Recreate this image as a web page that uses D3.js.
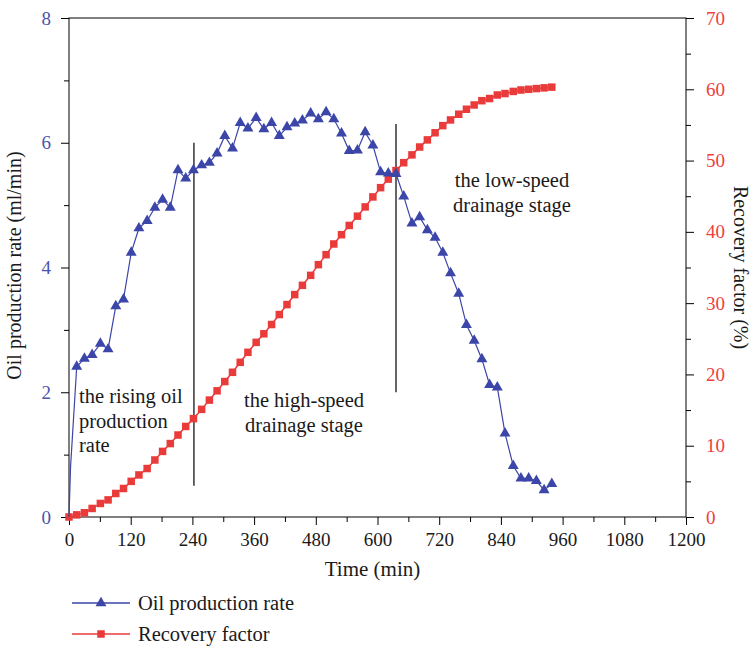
<!DOCTYPE html>
<html>
<head>
<meta charset="utf-8">
<script src="https://cdn.jsdelivr.net/npm/d3@7"></script>
<style>
  body { margin: 0; background: #fff; }
  text { font-family: "Liberation Serif", "DejaVu Serif", serif; }
</style>
</head>
<body>
<div class="graph-center"></div>
<script>
// data
let times = [0, 15, 30, 45, 61, 76, 91, 106, 121, 136, 152, 167, 182, 197, 212, 227, 242, 258, 273, 288,
  303, 318, 333, 348, 364, 379, 394, 409, 424, 439, 454, 470, 485, 500, 515, 530, 545, 561, 576, 591,
  606, 621, 636, 651, 667, 682, 697, 712, 727, 742, 758, 773, 788, 803, 818, 833, 848, 864, 879, 894,
  909, 924, 939]

// oil production rate (ml/min), first point is the start at t=0
let oilRate = [0, 2.41, 2.54, 2.60, 2.78, 2.69, 3.38, 3.49, 4.24, 4.63, 4.75, 4.96, 5.09, 4.96, 5.56, 5.43,
  5.56, 5.64, 5.68, 5.83, 6.11, 5.91, 6.32, 6.23, 6.40, 6.22, 6.32, 6.11, 6.25, 6.31, 6.36, 6.47, 6.38,
  6.49, 6.38, 6.15, 5.87, 5.88, 6.17, 5.96, 5.53, 5.51, 5.50, 5.14, 4.71, 4.81, 4.60, 4.48, 4.24, 3.91,
  3.58, 3.08, 2.83, 2.53, 2.12, 2.08, 1.34, 0.82, 0.62, 0.62, 0.58, 0.43, 0.53]

// recovery factor (%)
let recovery = [0, 0.3, 0.6, 1.2, 1.9, 2.4, 3.3, 4.0, 5.0, 5.9, 6.8, 8.0, 9.2, 10.3, 11.5, 12.7, 13.8,
  15.1, 16.4, 17.7, 19.0, 20.3, 21.7, 23.1, 24.5, 25.7, 27.0, 28.4, 29.8, 31.2, 32.5, 33.9, 35.4, 36.8,
  38.3, 39.6, 40.9, 42.2, 43.5, 44.9, 46.2, 47.4, 48.6, 49.7, 50.8, 51.9, 52.9, 53.9, 54.9, 55.7, 56.5,
  57.2, 57.8, 58.4, 58.7, 59.2, 59.4, 59.7, 59.9, 60.0, 60.1, 60.2, 60.3]

// early rise between t=0 and the first marker (line only)
let riseTime = [3]
let riseRate = [0.8]

let xTicks = [0, 120, 240, 360, 480, 600, 720, 840, 960, 1080, 1200]
let leftTicks = [0, 2, 4, 6, 8]
let rightTicks = [0, 10, 20, 30, 40, 50, 60, 70]

// stage separators: [time, from, to] in oil rate units
let stageLines = [[243, 0.5, 6.0], [636, 2.0, 6.3]]

let blue = '#3c46a8'
let red = '#ea3b3b'

let svgWidth = 756
let svgHeight = 646
let margin = { left: 69, right: 70, top: 18, bottom: 129 }
let width = svgWidth - margin.left - margin.right
let height = svgHeight - margin.top - margin.bottom

let svg = d3.select('.graph-center')
  .append('svg')
  .attr('width', svgWidth)
  .attr('height', svgHeight)
  .append('g')
  .attr('transform', `translate(${margin.left},${margin.top})`)

// scales
let xScale = d3.scaleLinear().domain([0, 1200]).range([0, width])
let yLeft = d3.scaleLinear().domain([0, 8]).range([height, 0])
let yRight = d3.scaleLinear().domain([0, 70]).range([height, 0])

let rateData = times.map((t, i) => ({ t: t, v: oilRate[i] }))
let rateLine = [rateData[0]].concat(riseTime.map((t, i) => ({ t: t, v: riseRate[i] })), rateData.slice(1))
let recData = times.map((t, i) => ({ t: t, v: recovery[i] }))

// frame
svg.append('rect')
  .attr('width', width).attr('height', height)
  .attr('fill', 'none').attr('stroke', '#000').attr('stroke-width', 1)

// axes
function styleAxis(g, color) {
  g.select('.domain').remove()
  g.selectAll('line').attr('stroke', '#000')
  g.selectAll('text').attr('fill', color).style('font-size', '19px')
}

let xMinor = d3.range(60, 1200, 120)
svg.append('g').attr('transform', `translate(0,${height})`)
  .call(d3.axisBottom(xScale).tickValues(xMinor).tickSize(5).tickFormat(''))
  .call(g => styleAxis(g, '#000'))
svg.append('g').attr('transform', `translate(0,${height})`)
  .call(d3.axisBottom(xScale).tickValues(xTicks).tickSize(8).tickPadding(8).tickFormat(d3.format('d')))
  .call(g => styleAxis(g, '#1a1a1a'))

svg.append('g')
  .call(d3.axisLeft(yLeft).tickValues([1, 3, 5, 7]).tickSize(5).tickFormat(''))
  .call(g => styleAxis(g, '#000'))
svg.append('g')
  .call(d3.axisLeft(yLeft).tickValues(leftTicks).tickSize(8).tickPadding(10))
  .call(g => styleAxis(g, '#4a54ae'))

svg.append('g').attr('transform', `translate(${width},0)`)
  .call(d3.axisRight(yRight).tickValues(d3.range(5, 70, 10)).tickSize(5).tickFormat(''))
  .call(g => styleAxis(g, '#000'))
svg.append('g').attr('transform', `translate(${width},0)`)
  .call(d3.axisRight(yRight).tickValues(rightTicks).tickSize(8).tickPadding(12))
  .call(g => styleAxis(g, '#ee4040'))

// axis titles
svg.append('text')
  .attr('x', width / 2 - 5).attr('y', height + 59)
  .attr('text-anchor', 'middle').style('font-size', '21px').attr('fill', '#1a1a1a')
  .text('Time (min)')
svg.append('text')
  .attr('transform', `translate(-48,${height / 2 - 2}) rotate(-90)`)
  .attr('text-anchor', 'middle').style('font-size', '20px').attr('fill', '#1a1a1a')
  .text('Oil production rate (ml/min)')
svg.append('text')
  .attr('transform', `translate(${width + 48},${height / 2}) rotate(90)`)
  .attr('text-anchor', 'middle').style('font-size', '20px').attr('fill', '#1a1a1a')
  .text('Recovery factor (%)')

// stage lines
svg.selectAll('.stage')
  .data(stageLines)
  .join('line')
  .attr('x1', d => xScale(d[0])).attr('x2', d => xScale(d[0]))
  .attr('y1', d => yLeft(d[1])).attr('y2', d => yLeft(d[2]))
  .attr('stroke', '#000').attr('stroke-width', 1.2)

// recovery factor
svg.append('path')
  .datum(recData)
  .attr('d', d3.line().x(d => xScale(d.t)).y(d => yRight(d.v)))
  .attr('fill', 'none').attr('stroke', red).attr('stroke-width', 1.5)
svg.selectAll('.sq')
  .data(recData)
  .join('rect')
  .attr('x', d => xScale(d.t) - 3.75).attr('y', d => yRight(d.v) - 3.75)
  .attr('width', 7.5).attr('height', 7.5)
  .attr('fill', red)

// oil production rate
svg.append('path')
  .datum(rateLine)
  .attr('d', d3.line().x(d => xScale(d.t)).y(d => yLeft(d.v)))
  .attr('fill', 'none').attr('stroke', blue).attr('stroke-width', 1.2)
let tri = d3.symbol().type(d3.symbolTriangle).size(52)
svg.selectAll('.tri')
  .data(rateData.slice(1))
  .join('path')
  .attr('d', tri)
  .attr('transform', d => `translate(${xScale(d.t)},${yLeft(d.v)})`)
  .attr('fill', blue)

// stage annotations
function note(lines, x, y, anchor) {
  let t = svg.append('text')
    .attr('x', x).attr('y', y)
    .attr('text-anchor', anchor)
    .style('font-size', '20.5px').attr('fill', '#1a1a1a')
  lines.forEach((s, i) => t.append('tspan').attr('x', x).attr('dy', i === 0 ? 0 : 24.5).text(s))
}
note(['the rising oil', 'production', 'rate'], 10, 385, 'start')
note(['the high-speed', 'drainage stage'], 235, 389, 'middle')
note(['the low-speed', 'drainage stage'], 443, 169, 'middle')

// legend
let legend = svg.append('g').attr('transform', `translate(${72 - margin.left},${603 - margin.top})`)
legend.append('line').attr('x1', 0).attr('x2', 58).attr('stroke', blue).attr('stroke-width', 1.5)
legend.append('path').attr('d', tri).attr('transform', 'translate(29,0)').attr('fill', blue)
legend.append('text').attr('x', 66).attr('y', 7).style('font-size', '20.5px').attr('fill', '#1a1a1a')
  .text('Oil production rate')
legend.append('line').attr('x1', 0).attr('x2', 58).attr('y1', 31).attr('y2', 31).attr('stroke', red).attr('stroke-width', 1.5)
legend.append('rect').attr('x', 25.25).attr('y', 27.25).attr('width', 7.5).attr('height', 7.5).attr('fill', red)
legend.append('text').attr('x', 66).attr('y', 38).style('font-size', '20.5px').attr('fill', '#1a1a1a')
  .text('Recovery factor')
</script>
</body>
</html>
